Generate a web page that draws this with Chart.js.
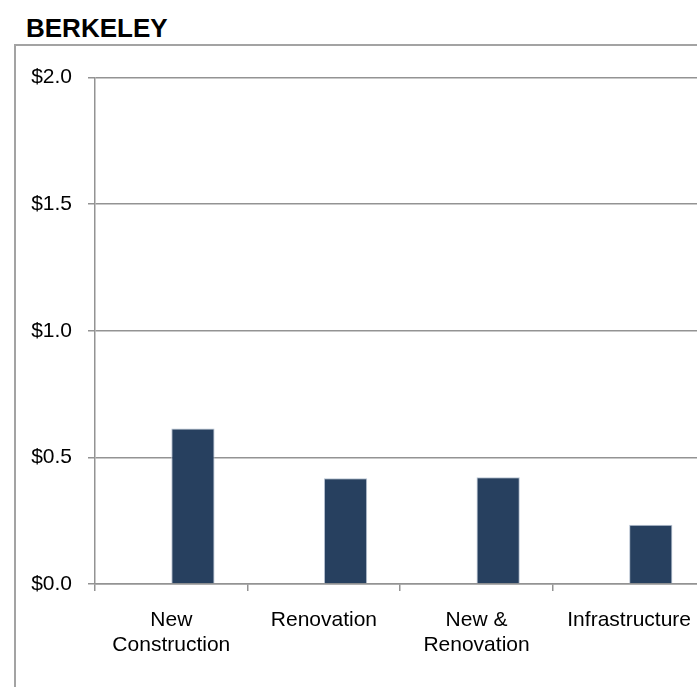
<!DOCTYPE html>
<html>
<head>
<meta charset="utf-8">
<script src="https://cdn.jsdelivr.net/npm/chart.js@4"></script>
<style>
  html, body { margin: 0; padding: 0; overflow: hidden; background: #fff; width: 697px; height: 687px; }
  #frame { position: absolute; left: 14px; top: 44px; width: 900px; height: 900px; border: 2px solid #a3a3a3; }
  #title { position: absolute; left: 26px; top: 15px; font: bold 26px "Liberation Sans", Arial, sans-serif; line-height: 26px; color: #000; }
  #chart { position: absolute; left: 0; top: 0; }
</style>
</head>
<body>
<div id="frame"></div>
<div id="title">BERKELEY</div>
<canvas id="chart" width="708" height="687"></canvas>
<script>
// Project funding by type, in billions of dollars
const categories = [['New', 'Construction'], 'Renovation', ['New &', 'Renovation'], 'Infrastructure'];
const berkeleyValues = [0.614, 0.418, 0.422, 0.234];
// Companion series with no entries; it keeps the left slot of each group open
const companionValues = [null, null, null, null];
const yTicks = { min: 0, max: 2, step: 0.5 };

const FONT = '"Liberation Sans", Arial, sans-serif';
const GRID = '#939393';

new Chart(document.getElementById('chart'), {
  type: 'bar',
  data: {
    labels: categories,
    datasets: [
      { label: 'Companion', data: companionValues, backgroundColor: '#27405f' },
      {
        label: 'Berkeley',
        data: berkeleyValues,
        backgroundColor: '#27405f',
        borderColor: '#b9c4d3',
        borderWidth: 1
      }
    ]
  },
  options: {
    responsive: false,
    animation: false,
    devicePixelRatio: 1,
    categoryPercentage: 0.567,
    barPercentage: 1,
    layout: { padding: { left: 0, top: 77.5, right: 0, bottom: 0 } },
    plugins: {
      legend: { display: false },
      tooltip: { enabled: false },
      title: { display: false }
    },
    scales: {
      x: {
        offset: true,
        grid: {
          offset: true,
          drawOnChartArea: false,
          drawTicks: true,
          tickLength: 7,
          color: GRID,
          lineWidth: 1.5
        },
        border: { display: true, color: GRID, width: 1.5 },
        ticks: {
          color: '#000',
          padding: 17,
          maxRotation: 0,
          autoSkip: false,
          font: { family: FONT, size: 21, lineHeight: 1.17 }
        },
        afterFit(scale) { scale.height = 103; }
      },
      y: {
        min: yTicks.min,
        max: yTicks.max,
        grid: {
          drawTicks: true,
          tickLength: 7,
          color: GRID,
          lineWidth: 1.5
        },
        border: { display: true, color: GRID, width: 1.5 },
        ticks: {
          stepSize: yTicks.step,
          color: '#000',
          padding: 16,
          font: { family: FONT, size: 21 },
          callback: (v) => '$' + Number(v).toFixed(1)
        },
        afterFit(scale) { scale.width = 95; }
      }
    }
  }
});
</script>
</body>
</html>
